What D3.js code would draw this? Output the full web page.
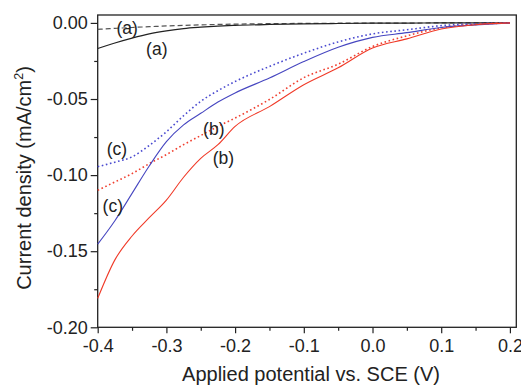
<!DOCTYPE html>
<html>
<head>
<meta charset="utf-8">
<script src="https://cdn.jsdelivr.net/npm/d3@7"></script>
<style>
  html, body { margin: 0; padding: 0; background: #fff; }
  svg { display: block; font-family: "Liberation Sans", Arial, sans-serif; }
</style>
</head>
<body>
<svg id="chart" width="521" height="386"></svg>
<script>
// Applied potential grid (V vs. SCE)
const potential = [-0.4, -0.375, -0.35, -0.325, -0.3, -0.275, -0.25, -0.225, -0.2, -0.15, -0.1, -0.05, 0.0, 0.05, 0.1, 0.15, 0.2];

// (a) black solid and dashed
const aSolid  = [-0.0168, -0.0132, -0.0100, -0.0072, -0.0052, -0.0037, -0.0028, -0.0021, -0.0016, -0.0010, -0.0006, -0.0004, -0.0002, -0.0001, 0, 0, 0];
const aDashed = [-0.0042, -0.0036, -0.0030, -0.0025, -0.0020, -0.0016, -0.0013, -0.0010, -0.0008, -0.0005, -0.0003, -0.0002, -0.0001, -0.0001, 0, 0, 0];
// (b) red solid and dotted
const bSolid  = [-0.181, -0.1557, -0.140, -0.128, -0.1164, -0.1014, -0.089, -0.080, -0.068, -0.055, -0.0406, -0.0295, -0.0165, -0.0105, -0.004, -0.0012, 0];
const bDotted = [-0.110, -0.1045, -0.099, -0.0925, -0.0865, -0.080, -0.074, -0.068, -0.0625, -0.0503, -0.036, -0.0271, -0.0155, -0.0085, -0.0032, -0.001, 0];
// (c) blue solid and dotted
const cSolid  = [-0.1454, -0.130, -0.112, -0.094, -0.078, -0.067, -0.0594, -0.052, -0.046, -0.0362, -0.0254, -0.016, -0.0095, -0.0064, -0.003, -0.0013, 0];
const cDotted = [-0.0945, -0.0915, -0.088, -0.0805, -0.0715, -0.061, -0.0515, -0.0445, -0.0385, -0.0286, -0.0199, -0.0125, -0.0072, -0.0045, -0.0018, -0.0006, 0];

const xTicks = [-0.4, -0.3, -0.2, -0.1, 0.0, 0.1, 0.2];
const yTicks = [0.00, -0.05, -0.10, -0.15, -0.20];
const xMinor = [-0.35, -0.25, -0.15, -0.05, 0.05, 0.15];
const yMinor = [-0.025, -0.075, -0.125, -0.175];

const labels = [
  {text: "(a)", x: -0.357, y: -0.0030},
  {text: "(a)", x: -0.314, y: -0.0170},
  {text: "(b)", x: -0.231, y: -0.0698},
  {text: "(b)", x: -0.217, y: -0.0890},
  {text: "(c)", x: -0.372, y: -0.0830},
  {text: "(c)", x: -0.378, y: -0.1205}
];

const svg = d3.select("#chart");
const mLeft = 97.7, mRight = 516.3, mTop = 15, mBottom = 327.3;

const x = d3.scaleLinear().domain([-0.4, 0.2093]).range([mLeft, mRight]);
const y = d3.scaleLinear().domain([-0.2, 0.0052]).range([mBottom, mTop]);

// Frame
svg.append("rect")
  .attr("x", mLeft).attr("y", mTop)
  .attr("width", mRight - mLeft).attr("height", mBottom - mTop)
  .attr("fill", "none").attr("stroke", "#222").attr("stroke-width", 1.3);

// Axes
const fs = 18;
const xAxis = d3.axisBottom(x).tickValues(xTicks).tickSize(6).tickPadding(6)
  .tickFormat(d3.format(".1f"));
const gx = svg.append("g").attr("transform", `translate(0,${mBottom})`).call(xAxis);
gx.call(g => g.select(".domain").remove());
gx.selectAll("line").attr("stroke", "#222").attr("stroke-width", 1.2);
gx.selectAll("text").attr("font-size", fs).attr("fill", "#222")
  .attr("font-family", "Liberation Sans, Arial, sans-serif")
  .text(d => d3.format(".1f")(d).replace("−", "-"));

const gxm = svg.append("g").attr("transform", `translate(0,${mBottom})`)
  .call(d3.axisBottom(x).tickValues(xMinor).tickSize(3.5).tickFormat(""));
gxm.select(".domain").remove();
gxm.selectAll("line").attr("stroke", "#222").attr("stroke-width", 1.2);

const yAxis = d3.axisLeft(y).tickValues(yTicks).tickSize(7).tickPadding(3)
  .tickFormat(d3.format(".2f"));
const gy = svg.append("g").attr("transform", `translate(${mLeft},0)`).call(yAxis);
gy.call(g => g.select(".domain").remove());
gy.selectAll("line").attr("stroke", "#222").attr("stroke-width", 1.2);
gy.selectAll("text").attr("font-size", fs).attr("fill", "#222")
  .attr("font-family", "Liberation Sans, Arial, sans-serif")
  .text(d => d3.format(".2f")(d).replace("−", "-"));

const gym = svg.append("g").attr("transform", `translate(${mLeft},0)`)
  .call(d3.axisLeft(y).tickValues(yMinor).tickSize(3.5).tickFormat(""));
gym.select(".domain").remove();
gym.selectAll("line").attr("stroke", "#222").attr("stroke-width", 1.2);

// Lines
const line = d3.line().x(d => x(d[0])).y(d => y(d[1])).curve(d3.curveMonotoneX);
const series = [
  {vals: aDashed, color: "#555", dash: "5,3", w: 1.2},
  {vals: aSolid,  color: "#222", dash: null, w: 1.2},
  {vals: cDotted, color: "#4a4ad0", dash: "1.6,2.6", w: 1.6},
  {vals: bDotted, color: "#f04030", dash: "1.6,2.6", w: 1.6},
  {vals: cSolid,  color: "#4646c0", dash: null, w: 1.1},
  {vals: bSolid,  color: "#f03a28", dash: null, w: 1.1}
];
series.forEach(s => {
  svg.append("path")
    .datum(potential.map((p, i) => [p, s.vals[i]]))
    .attr("d", line)
    .attr("fill", "none")
    .attr("stroke", s.color)
    .attr("stroke-width", s.w)
    .attr("stroke-dasharray", s.dash);
});

// Curve labels
svg.append("g").selectAll("text").data(labels).join("text")
  .attr("x", d => x(d.x)).attr("y", d => y(d.y))
  .attr("text-anchor", "middle").attr("dy", "0.35em")
  .attr("font-size", 17.5).attr("fill", "#222")
  .text(d => d.text);

// Axis titles
svg.append("text")
  .attr("x", 311).attr("y", 381)
  .attr("text-anchor", "middle").attr("font-size", 20).attr("fill", "#222")
  .text("Applied potential vs. SCE (V)");

const yt = svg.append("text")
  .attr("transform", "translate(31,178) rotate(-90)")
  .attr("text-anchor", "middle").attr("font-size", 20).attr("fill", "#222");
yt.append("tspan").text("Current density (mA/cm");
yt.append("tspan").attr("font-size", 12.5).attr("dy", -8).text("2");
yt.append("tspan").attr("dy", 8).text(")");
</script>
</body>
</html>
